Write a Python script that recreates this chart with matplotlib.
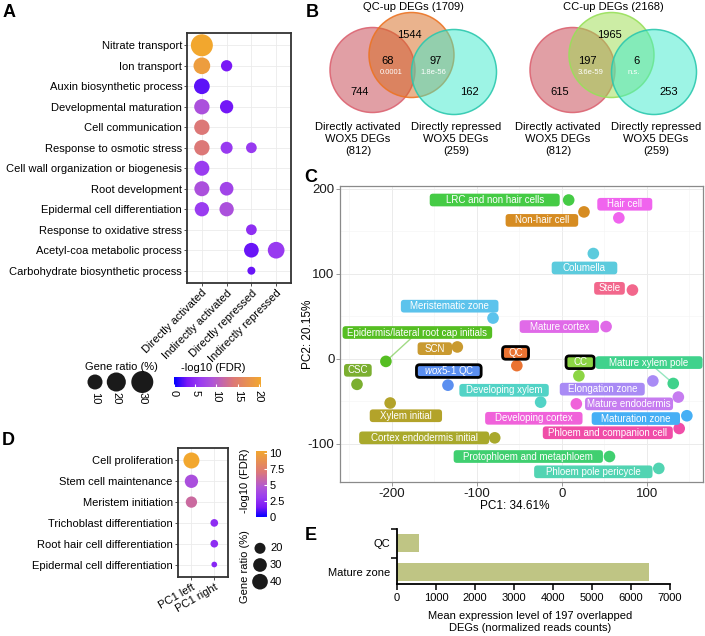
import numpy as np
import matplotlib
matplotlib.use('Agg')
import matplotlib.pyplot as plt
from matplotlib.colors import LinearSegmentedColormap, Normalize, to_rgba
from matplotlib.cm import ScalarMappable
from matplotlib.patches import Circle, FancyBboxPatch
from matplotlib.transforms import IdentityTransform

plt.rcParams['font.family'] = ['Liberation Sans', 'DejaVu Sans']
plt.rcParams['mathtext.fontset'] = 'custom'
plt.rcParams['mathtext.it'] = 'Liberation Sans:italic'
plt.rcParams['mathtext.rm'] = 'Liberation Sans'
plt.rcParams['axes.unicode_minus'] = False

# ---------------- data ----------------
# A: GO terms enriched in WOX5 target classes
a_terms = ['Nitrate transport', 'Ion transport', 'Auxin biosynthetic process',
           'Developmental maturation', 'Cell communication', 'Response to osmotic stress',
           'Cell wall organization or biogenesis', 'Root development',
           'Epidermal cell differentiation', 'Response to oxidative stress',
           'Acetyl-coa metabolic process', 'Carbohydrate biosynthetic process']
a_groups = ['Directly activated', 'Indirectly activated', 'Directly repressed', 'Indirectly repressed']
a_term_idx = [0, 1, 1, 2, 3, 3, 4, 5, 5, 5, 6, 7, 7, 8, 8, 9, 10, 10, 11]
a_group_idx = [0, 0, 1, 0, 0, 1, 0, 0, 1, 2, 0, 0, 1, 0, 1, 2, 2, 3, 2]
a_ratio = [30, 13.6, 4.8, 11.4, 10.6, 7.1, 10.6, 10.6, 5.5, 4.3, 10.0, 10.0, 7.7,
           8.7, 8.7, 4.3, 9.4, 13.6, 3.3]
a_fdr = [20.5, 19, 3.1, 2.4, 8.5, 2.9, 14, 14, 6, 6, 6.2, 8.5, 7.2, 6.2, 8.5, 5,
         2.7, 6, 2.7]
a_size_breaks = [10, 20, 30]
a_fdr_breaks = [0, 5, 10, 15, 20]

# B: Venn overlaps
venn_top_names = ['QC-up DEGs', 'CC-up DEGs']
venn_top_totals = [1709, 2168]
venn_top_only = [1544, 1965]
venn_act_overlap = [68, 197]
venn_rep_overlap = [97, 6]
venn_act_only = [744, 615]
venn_rep_only = [162, 253]
venn_act_p = ['0.0001', '3.6e-59']
venn_rep_p = ['1.8e-56', 'n.s.']
act_total = 812
rep_total = 259

# C: PCA of cell types
c_types = ['LRC and non hair cells', 'Non-hair cell', 'Hair cell', 'Columella', 'Stele',
           'Meristematic zone', 'Mature cortex', 'Epidermis/lateral root cap initials', 'SCN',
           'QC', 'CC', 'Mature xylem pole', 'CSC', 'wox5-1 QC', 'Developing xylem',
           'Elongation zone', 'Mature endodermis', 'Xylem initial', 'Developing cortex',
           'Maturation zone', 'Phloem and companion cell', 'Cortex endodermis initial',
           'Protophloem and metaphloem', 'Phloem pole pericycle']
c_pc1 = [8, 26, 67, 37, 83, -81, 52, -207, -123, -53, 20, 131, -241, -134, -25, 107,
         137, -202, 17, 147, 138, -79, 56, 114]
c_pc2 = [187, 173, 166, 124, 81, 48, 38, -3, 14, -8, -20, -29, -30, -31, -51, -26,
         -45, -52, -53, -67, -82, -93, -115, -129]

# D: GO terms for PC1 sides
d_terms = ['Cell proliferation', 'Stem cell maintenance', 'Meristem initiation',
           'Trichoblast differentiation', 'Root hair cell differentiation',
           'Epidermal cell differentiation']
d_groups = ['PC1 left', 'PC1 right']
d_group_idx = [0, 0, 0, 1, 1, 1]
d_ratio = [42, 28.3, 20.9, 13.1, 13.1, 12]
d_fdr = [10.3, 4.2, 6.0, 2.5, 2.5, 2.2]
d_size_breaks = [20, 30, 40]
d_fdr_breaks = [0, 2.5, 5, 7.5, 10]

# E: mean expression of the 197 overlapped DEGs
e_groups = ['QC', 'Mature zone']
e_values = [560, 6450]

# ---------------- styles / layout ----------------
c_colors = ['#45CB45', '#D68C22', '#F064EE', '#5CCBDD', '#F2678C', '#5CC3EC', '#E06AE8',
            '#55BE22', '#C99A30', '#EA7332', '#8CD544', '#40D28C', '#7BAF30', '#5B8FF0',
            '#52D3C6', '#A98BF5', '#C67CF0', '#B3A32A', '#F062DA', '#46AFF5', '#F04DA8',
            '#A9A92C', '#40CF70', '#52D4B2']
# label centre offsets from the point (repel layout) and label box widths in px
c_lab_dx = [-87, -49.5, 7, -10.4, -27, -51, -55, 37, -26.5, -1.5, 1.5, -28.5, 1, 1,
            -43, -59.5, -58, 18.5, -50, -60, -84, -83, -95.5, -77]
c_lab_dy = [0, -10, 16, -17, 2, 14, 0, 34, -2, 15, 16, 24.6, 16.5, 16.6, 14, -9.7,
            -8, -15, -17, -3.3, -5, 0, 0, -4]
c_box_w = [130, 72.6, 55, 65.6, 30.7, 97.6, 79.3, 149.6, 34.4, 26, 28.3, 107, 27.7,
           64.7, 89.4, 85, 88, 72.3, 97.4, 88.3, 130, 130, 149.3, 118.4]
c_boxed = ['QC', 'CC', 'wox5-1 QC']
c_linked = ['Epidermis/lateral root cap initials', 'Mature xylem pole']

W, H, DPI = 705, 636, 100
FS = 8

fdr_cmap = LinearSegmentedColormap.from_list(
    'fdr', [(0, '#0000FF'), (0.15, '#7A18F6'), (0.3, '#9A3CF0'), (0.45, '#B056D6'),
            (0.68, '#DC7878'), (1.0, '#F2A72E')])


def fbox(l, t, r, b):
    return [l / W, 1 - b / H, (r - l) / W, (b - t) / H]


def dot_size(v, vmin, vmax, rmin, rmax):
    v = np.asarray(v, dtype=float)
    d = rmin + (rmax - rmin) * np.sqrt(np.clip((v - vmin) / (vmax - vmin), 0, None))
    return (d * 72 / DPI) ** 2


def style_box(ax):
    for s in ax.spines.values():
        s.set_color('#333333')
        s.set_linewidth(1.3)
    ax.grid(color='#EBEBEB', lw=0.6)
    ax.set_axisbelow(True)
    ax.tick_params(length=2, width=0.6, color='#333333', labelsize=FS, pad=1.5)


fig = plt.figure(figsize=(W / DPI, H / DPI), dpi=DPI)

# ---------------- A ----------------
ax_a = fig.add_axes(fbox(187, 33, 291, 283))
norm_a = Normalize(0, max(a_fdr))
sz_a = lambda v: dot_size(v, min(a_ratio), max(a_ratio), 8, 22)
ax_a.scatter(np.array(a_group_idx) + 1, np.array(a_term_idx) + 1, s=sz_a(a_ratio),
             c=a_fdr, cmap=fdr_cmap, norm=norm_a, edgecolors='none', zorder=3)
ax_a.set_xlim(0.4, 4.6)
ax_a.set_ylim(12.6, 0.4)
ax_a.set_xticks(range(1, 5), a_groups, rotation=45, ha='right', rotation_mode='anchor')
ax_a.set_yticks(range(1, 13), a_terms)
style_box(ax_a)

cax_a = fig.add_axes(fbox(174, 377, 261, 387))
cb_a = fig.colorbar(ScalarMappable(norm_a, fdr_cmap), cax=cax_a, orientation='horizontal')
cb_a.set_ticks(a_fdr_breaks)
cb_a.outline.set_visible(False)
cax_a.tick_params(labelsize=FS, length=2.5, color='white', direction='in', pad=2,
                  labelrotation=-90)

# ---------------- C ----------------
ax_c = fig.add_axes(fbox(340, 186, 703, 482))
ax_c.set_xlim(-261, 166)
ax_c.set_ylim(-145, 203.5)
ax_c.set_xticks([-200, -100, 0, 100])
ax_c.set_yticks([-100, 0, 100, 200])
ax_c.set_xticks([-250, -150, -50, 50, 150], minor=True)
ax_c.set_yticks([-50, 50, 150], minor=True)
ax_c.grid(which='major', color='#EBEBEB', lw=0.7)
ax_c.grid(which='minor', color='#F4F4F4', lw=0.4)
ax_c.set_axisbelow(True)
for s in ax_c.spines.values():
    s.set_color('#8A8A8A')
    s.set_linewidth(0.9)
ax_c.tick_params(which='major', length=3, width=0.6, color='#8A8A8A', labelsize=9.5,
                 labelcolor='#1A1A1A', pad=1)
ax_c.tick_params(which='minor', length=0)
ax_c.scatter(c_pc1, c_pc2, s=70, c=c_colors, edgecolors='none', zorder=3)

for name, x, y, dx, dy, col, bw in zip(c_types, c_pc1, c_pc2, c_lab_dx, c_lab_dy,
                                       c_colors, c_box_w):
    lx, ly = x + dx, y + dy
    if name in c_linked:
        ax_c.plot([lx, x], [ly, y], color=col, alpha=0.55, lw=1.0, zorder=2)
    label = r'$\it{wox5}$-$\it{1}$ QC' if name == 'wox5-1 QC' else name
    ax_c.text(lx, ly, label, ha='center', va='center', color='white', fontsize=7,
              zorder=6)
    h = 12.7
    cx, cy = ax_c.transData.transform((lx, ly))
    boxed = name in c_boxed
    patch = FancyBboxPatch((cx - bw / 2, cy - h / 2), bw, h,
                           boxstyle='round,pad=0,rounding_size=3.2',
                           transform=IdentityTransform(), facecolor=col,
                           edgecolor='black' if boxed else 'none',
                           lw=2.0 if boxed else 0, zorder=5)
    ax_c.add_artist(patch)

# ---------------- D ----------------
ax_d = fig.add_axes(fbox(177.7, 448, 228, 577))
norm_d = Normalize(0, max(d_fdr))
sz_d = lambda v: dot_size(v, min(d_ratio), max(d_ratio), 5.7, 16)
ax_d.scatter(np.array(d_group_idx) + 1, np.arange(len(d_terms)) + 1, s=sz_d(d_ratio),
             c=d_fdr, cmap=fdr_cmap, norm=norm_d, edgecolors='none', zorder=3)
ax_d.set_xlim(0.4, 2.6)
ax_d.set_ylim(len(d_terms) + 0.6, 0.4)
ax_d.set_xticks([1, 2], d_groups, rotation=30, ha='right', rotation_mode='anchor')
ax_d.set_yticks(range(1, len(d_terms) + 1), d_terms)
style_box(ax_d)

cax_d = fig.add_axes(fbox(256, 450.7, 266.7, 517.3))
cb_d = fig.colorbar(ScalarMappable(norm_d, fdr_cmap), cax=cax_d, orientation='vertical')
cb_d.set_ticks(d_fdr_breaks, labels=['0', '2.5', '5', '7.5', '10'])
cb_d.outline.set_visible(False)
cax_d.tick_params(labelsize=FS, length=2.5, color='white', direction='in', pad=2)

# ---------------- E ----------------
ax_e = fig.add_axes(fbox(397, 529.3, 670, 584.3))
ax_e.barh(range(len(e_groups)), e_values, height=0.645, color='#BFC584')
ax_e.set_xlim(0, 7000)
ax_e.set_ylim(1.45, -0.5)
ax_e.set_xticks(range(0, 7001, 1000))
ax_e.set_yticks(range(len(e_groups)), e_groups)
ax_e.set_yticks([-0.5, 0.5], minor=True)
ax_e.tick_params(axis='y', which='major', length=0, pad=5, labelsize=FS)
ax_e.tick_params(axis='y', which='minor', length=4, width=1.1)
ax_e.tick_params(axis='x', length=4, width=1.1, labelsize=FS, pad=2)
for side in ['top', 'right']:
    ax_e.spines[side].set_visible(False)
for side in ['left', 'bottom']:
    ax_e.spines[side].set_linewidth(1.3)

# ---------------- overlay: B, legends, labels ----------------
ov = fig.add_axes([0, 0, 1, 1])
ov.set_xlim(0, W)
ov.set_ylim(H, 0)
ov.axis('off')

# panel letters
for letter, x, y in [('A', 3, 17), ('B', 306, 17), ('C', 304, 182), ('D', 2, 445),
                     ('E', 305, 540)]:
    ov.text(x, y, letter, fontsize=13, fontweight='bold', va='baseline', ha='left')

# A legends
ov.text(121.5, 366.5, 'Gene ratio (%)', ha='center', va='center', fontsize=FS)
ov.text(213.5, 368, '-log10 (FDR)', ha='center', va='center', fontsize=FS)
leg_x = [95, 116.3, 142.3]
ov.scatter(leg_x, [382] * 3, s=sz_a(a_size_breaks), color='#1A1A1A', edgecolors='none')
for x, v in zip(leg_x, a_size_breaks):
    ov.text(x, 392, str(v), rotation=-90, ha='center', va='top', fontsize=FS)

# D legends
ov.text(245.5, 481, '-log10 (FDR)', rotation=90, ha='center', va='center', fontsize=FS)
ov.text(245.5, 567, 'Gene ratio (%)', rotation=90, ha='center', va='center', fontsize=FS)
leg_y = [548.3, 565, 581.7]
ov.scatter([260] * 3, leg_y, s=sz_d(d_size_breaks), color='#1A1A1A', edgecolors='none')
for y, v in zip(leg_y, d_size_breaks):
    ov.text(270, y, str(v), ha='left', va='center', fontsize=FS)

# axis titles C / E
ov.text(515, 506, 'PC1: 34.61%', ha='center', va='center', fontsize=8.5)
ov.text(308, 334, 'PC2: 20.15%', rotation=90, ha='center', va='center', fontsize=8.5)
ov.text(530, 622, 'Mean expression level of 197 overlapped\nDEGs (normalized reads counts)',
        ha='center', va='center', fontsize=FS, linespacing=1.25)

# B: Venn diagrams
top_fills = [('#D7691D', '#EC7424'), ('#9BDD4D', '#98E05A')]
R = 42.5
for k, dx in enumerate([0, 200]):
    circles = [((372.5 + dx, 70), '#C5414D', '#DC6472'),
               ((411.5 + dx, 55), top_fills[k][0], top_fills[k][1]),
               ((454 + dx, 72), '#3DEBCD', '#2CC8AE')]
    for c, fc, ec in circles:
        ov.add_patch(Circle(c, R, facecolor=to_rgba(fc, 0.5),
                            edgecolor=to_rgba(ec, 0.9), lw=1.1))
    ov.text(413 + dx, 7, f'{venn_top_names[k]} ({venn_top_totals[k]})', ha='center',
            va='center', fontsize=FS)
    ov.text(409 + dx, 35, str(venn_top_only[k]), ha='center', va='center', fontsize=FS)
    ov.text(387.5 + dx, 61, str(venn_act_overlap[k]), ha='center', va='center', fontsize=FS)
    ov.text(436 + dx, 61, str(venn_rep_overlap[k]), ha='center', va='center', fontsize=FS)
    ov.text(391 + dx, 72.5, venn_act_p[k], ha='center', va='center', fontsize=5.5,
            color='white')
    ov.text(433.3 + dx, 72.5, venn_rep_p[k], ha='center', va='center', fontsize=5.5,
            color='white')
    ov.text(360 + dx, 91.7, str(venn_act_only[k]), ha='center', va='center', fontsize=FS)
    ov.text(469 + dx, 91.7, str(venn_rep_only[k]), ha='center', va='center', fontsize=FS)
    ov.text(358 + dx, 139, f'Directly activated\nWOX5 DEGs\n({act_total})', ha='center',
            va='center', fontsize=FS, linespacing=1.3)
    ov.text(456 + dx, 139, f'Directly repressed\nWOX5 DEGs\n({rep_total})', ha='center',
            va='center', fontsize=FS, linespacing=1.3)

fig.savefig('out.png', dpi=DPI)
